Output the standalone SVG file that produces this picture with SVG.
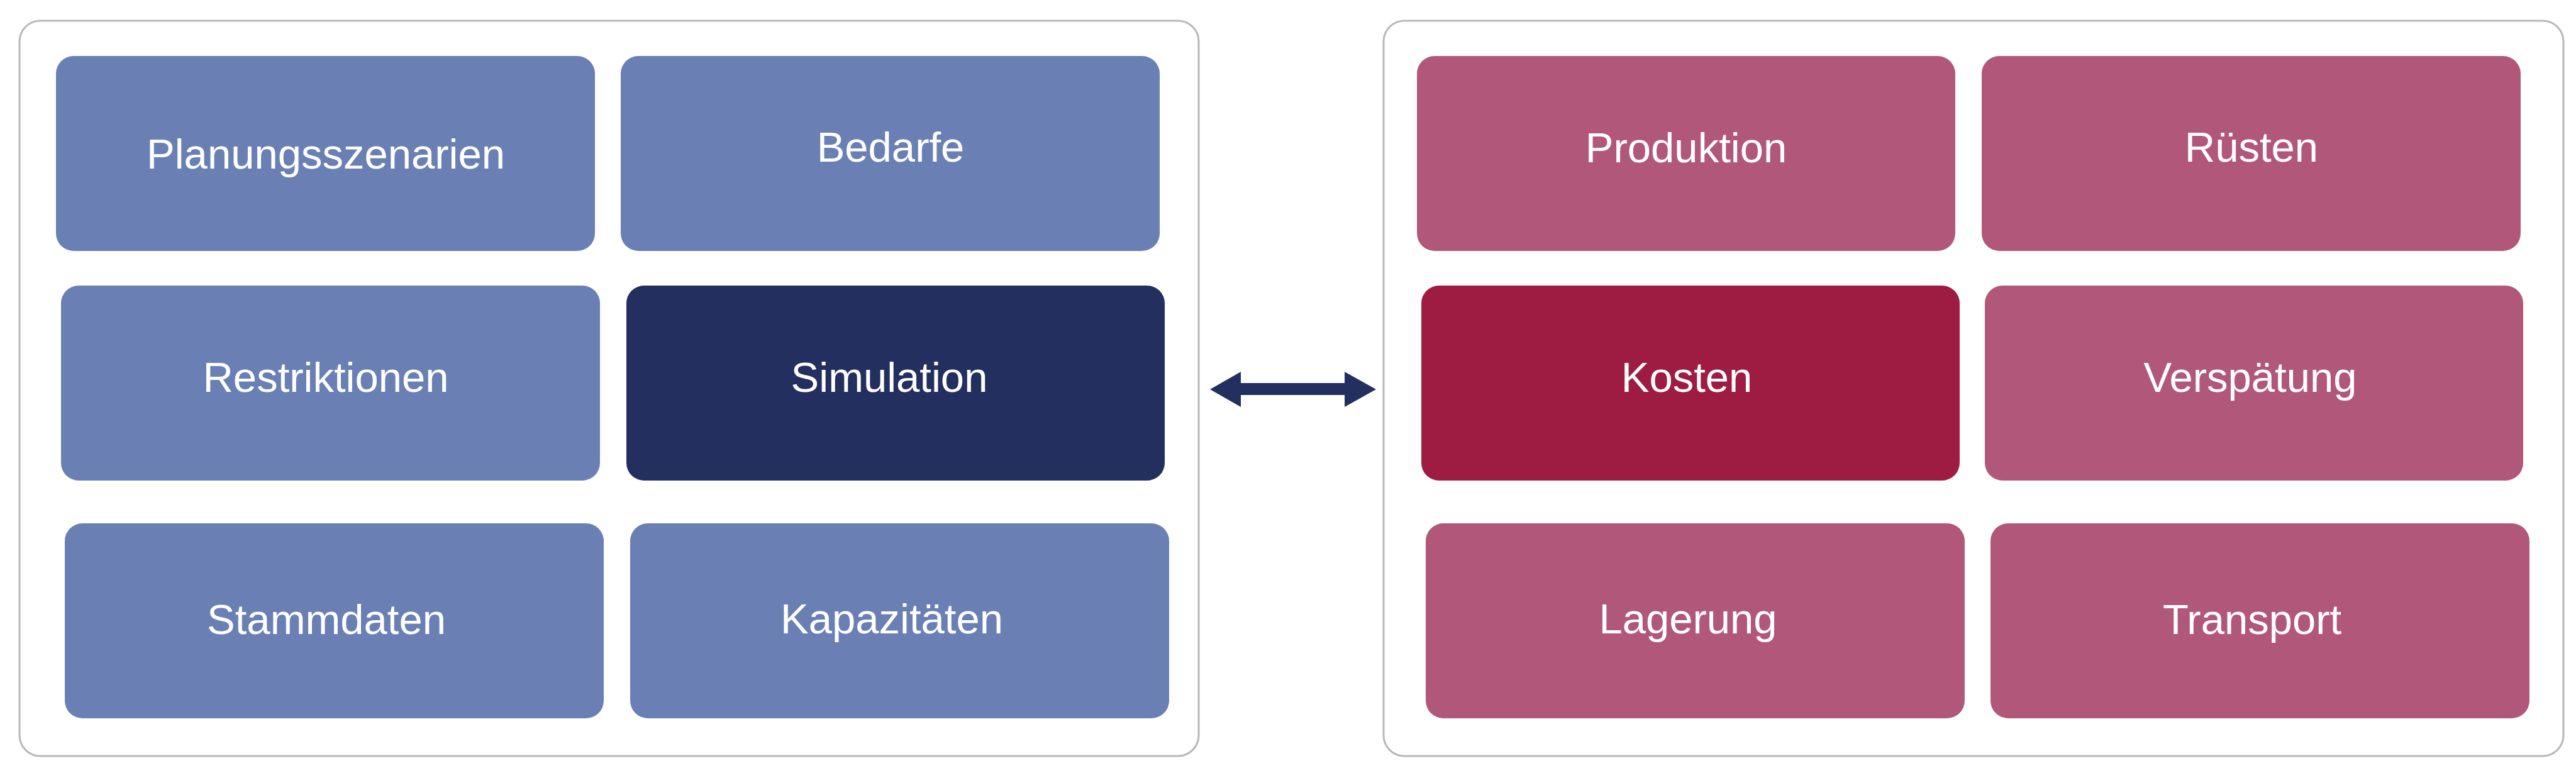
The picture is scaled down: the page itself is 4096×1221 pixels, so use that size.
<svg xmlns="http://www.w3.org/2000/svg" width="4096" height="1221" viewBox="0 0 4096 1221">
<style>
.panel{fill:#ffffff;stroke:#b8b8b8;stroke-width:3}
.box{stroke:none}
.lb{fill:#6A80B4}
.db{fill:#232F5E}
.lp{fill:#B1587A}
.dp{fill:#9E1C42}
.lbl{font-family:"Liberation Sans",Arial,sans-serif;font-size:67px;fill:#ffffff;text-anchor:middle}
</style>
<rect width="4096" height="1221" fill="#ffffff"/>
<g id="panel-left"><rect class="panel" x="31" y="33" width="1875" height="1169" rx="33"/></g>
<g id="panel-right"><rect class="panel" x="2200" y="33" width="1876" height="1169" rx="33"/></g>

<g id="n-planungsszenarien"><rect class="box lb" x="89" y="89" width="857" height="310" rx="28"/><text class="lbl" x="518" y="268">Planungsszenarien</text></g>
<g id="n-bedarfe"><rect class="box lb" x="987" y="89" width="857" height="310" rx="28"/><text class="lbl" x="1416" y="257">Bedarfe</text></g>
<g id="n-restriktionen"><rect class="box lb" x="97" y="454" width="857" height="310" rx="28"/><text class="lbl" x="518" y="623">Restriktionen</text></g>
<g id="n-simulation"><rect class="box db" x="996" y="454" width="856" height="310" rx="28"/><text class="lbl" x="1414" y="623">Simulation</text></g>
<g id="n-stammdaten"><rect class="box lb" x="103" y="832" width="857" height="310" rx="28"/><text class="lbl" x="519" y="1008">Stammdaten</text></g>
<g id="n-kapazitaeten"><rect class="box lb" x="1002" y="832" width="857" height="310" rx="28"/><text class="lbl" x="1418" y="1007">Kapazitäten</text></g>

<g id="n-produktion"><rect class="box lp" x="2253" y="89" width="856" height="310" rx="28"/><text class="lbl" x="2681" y="258">Produktion</text></g>
<g id="n-ruesten"><rect class="box lp" x="3151" y="89" width="857" height="310" rx="28"/><text class="lbl" x="3580" y="257">Rüsten</text></g>
<g id="n-kosten"><rect class="box dp" x="2260" y="454" width="856" height="310" rx="28"/><text class="lbl" x="2682" y="623">Kosten</text></g>
<g id="n-verspaetung"><rect class="box lp" x="3156" y="454" width="856" height="310" rx="28"/><text class="lbl" x="3578" y="623">Verspätung</text></g>
<g id="n-lagerung"><rect class="box lp" x="2267" y="832" width="857" height="310" rx="28"/><text class="lbl" x="2684" y="1007">Lagerung</text></g>
<g id="n-transport"><rect class="box lp" x="3165" y="832" width="857" height="310" rx="28"/><text class="lbl" x="3581" y="1008">Transport</text></g>

<g id="connectors">
<polygon fill="#232F5E" points="1924,619 1973,591 1973,609 2138,609 2138,591 2188,619 2138,647 2138,628 1973,628 1973,647"/>
</g>
</svg>
